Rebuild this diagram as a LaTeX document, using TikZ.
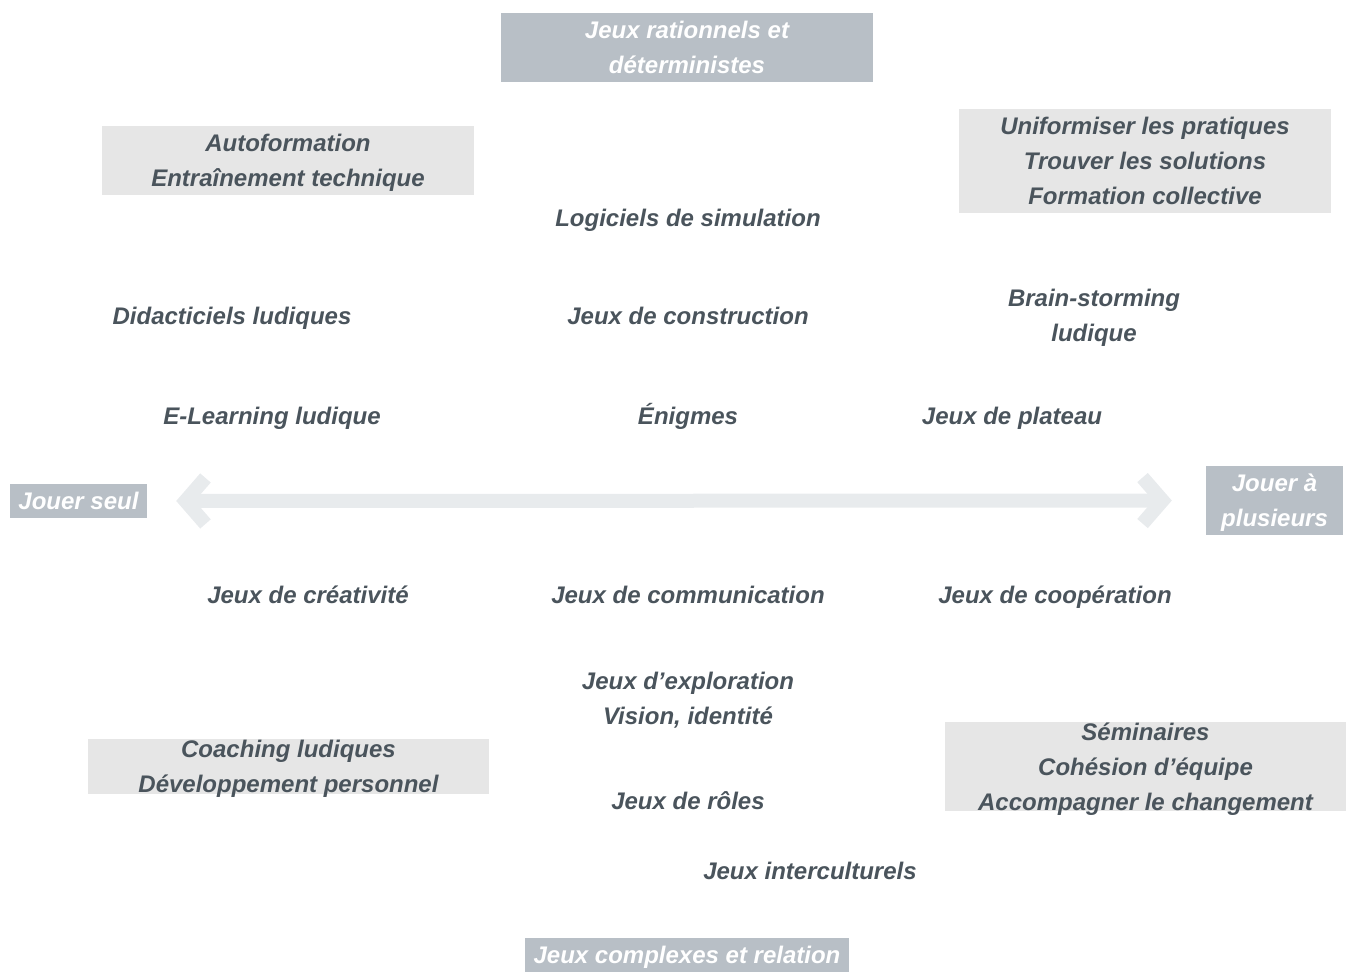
\documentclass[tikz,border=0pt]{standalone}
\usepackage{fontspec}
\setmainfont{Liberation Sans}
\usetikzlibrary{arrows.meta}
\definecolor{txtgray}{RGB}{74,84,92}
\definecolor{axisgray}{RGB}{184,191,198}
\definecolor{notegray}{RGB}{230,230,230}
\definecolor{arrowgray}{RGB}{232,235,237}
\begin{document}
\begin{tikzpicture}[x=1pt,y=-1pt,
				every node/.style={font=\fontsize{24}{35}\selectfont\bfseries\itshape,
					text=txtgray,align=center,inner sep=0pt},
				item/.style={text height=17pt,text depth=0pt},
				axisbox/.style={fill=axisgray,text=white,text depth=0pt},
				notebox/.style={fill=notegray,text depth=0pt},
				axisarrow/.style={draw=arrowgray,line width=14pt,
					{Straight Barb[length=20pt,width=46pt]}-{Straight Barb[length=20pt,width=46pt]}}]
\useasboundingbox (0,0) rectangle (1346,972);
% axes
\node[axisbox,minimum width=372pt,minimum height=69pt] (top) at (687,47.5) {Jeux rationnels et\\déterministes};
\node[axisbox,minimum width=324pt,minimum height=34pt] (bottom) at (687,955) {Jeux complexes et relation};
\node[axisbox,minimum width=137pt,minimum height=34pt] (seul) at (78.5,501) {Jouer seul};
\node[axisbox,minimum width=137pt,minimum height=69pt] (plus) at (1274.5,500.5) {Jouer à\\plusieurs};
\draw[axisarrow,shorten <=29pt,shorten >=34pt] (seul) -- (plus);
% corners
\node[notebox,minimum width=372pt,minimum height=69pt] (auto) at (288,160.5) {Autoformation\\Entraînement technique};
\node[notebox,minimum width=372pt,minimum height=104pt] (unif) at (1145,161) {Uniformiser les pratiques\\Trouver les solutions\\Formation collective};
\node[notebox,minimum width=401pt,minimum height=55pt] (coach) at (288.5,766.5) {Coaching ludiques\\Développement personnel};
\node[notebox,minimum width=401pt,minimum height=89pt] (semi) at (1145.5,766.5) {Séminaires\\Cohésion d’équipe\\Accompagner le changement};
% games
\node[item] (logi) at (688,218) {Logiciels de simulation};
\node[item] (didac) at (232,316) {Didacticiels ludiques};
\node[item] (constr) at (688,316) {Jeux de construction};
\node[yshift=-2pt] (brain) at (1094,316) {Brain-storming\\ludique};
\node[item] (elearn) at (272,416) {E-Learning ludique};
\node[item] (enig) at (688,416) {Énigmes};
\node[item] (plat) at (1012,416) {Jeux de plateau};
\node[item] (creat) at (308,595) {Jeux de créativité};
\node[item] (comm) at (688,595) {Jeux de communication};
\node[item] (coop) at (1055,595) {Jeux de coopération};
\node[yshift=-2pt] (explo) at (688,698.5) {Jeux d’exploration\\Vision, identité};
\node[item] (roles) at (688,801) {Jeux de rôles};
\node[item] (inter) at (810,871) {Jeux interculturels};
\end{tikzpicture}
\end{document}
